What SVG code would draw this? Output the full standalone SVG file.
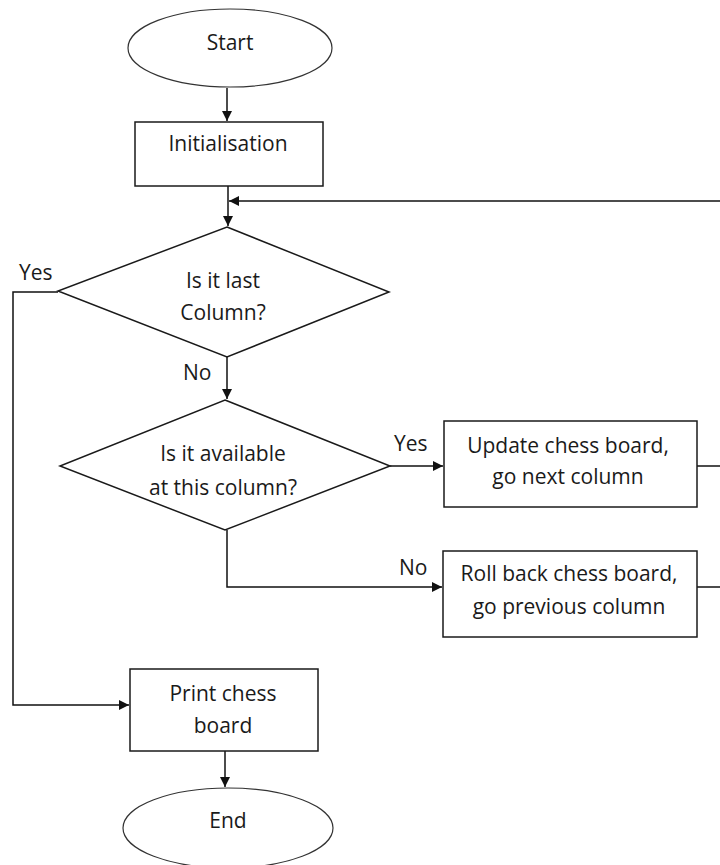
<svg xmlns="http://www.w3.org/2000/svg" width="720" height="865" viewBox="0 0 720 865">
<style>
.s{fill:#fff;stroke:#1a1a1a;stroke-width:1.5}
.e{fill:#fff;stroke:#333;stroke-width:1.2}
.c{fill:none;stroke:#111;stroke-width:1.5}
text{font-family:"Open Sans","Liberation Sans",sans-serif;font-size:21px;fill:#1a1a1a;text-anchor:middle}
.l{text-anchor:start}
</style>
<defs>
<marker id="a" viewBox="0 0 10 10" refX="10" refY="5" markerWidth="10" markerHeight="10" markerUnits="userSpaceOnUse" orient="auto">
<path d="M0,0 L10,5 L0,10 z" fill="#111"/>
</marker>
</defs>
<rect width="720" height="865" fill="#fff"/>
<g id="connectors">
<line class="c" x1="227" y1="88" x2="227" y2="121" marker-end="url(#a)"/>
<line class="c" x1="228" y1="186" x2="228" y2="226" marker-end="url(#a)"/>
<line class="c" x1="720" y1="201" x2="229" y2="201" marker-end="url(#a)"/>
<polyline class="c" points="58,292 13,292 13,705 129,705" marker-end="url(#a)"/>
<line class="c" x1="227" y1="357" x2="227" y2="399" marker-end="url(#a)"/>
<line class="c" x1="390" y1="466" x2="443" y2="466" marker-end="url(#a)"/>
<polyline class="c" points="227,530 227,587 442,587" marker-end="url(#a)"/>
<line class="c" x1="697" y1="466" x2="720" y2="466"/>
<line class="c" x1="697" y1="587" x2="720" y2="587"/>
<line class="c" x1="225" y1="751" x2="225" y2="787" marker-end="url(#a)"/>
<text class="l" x="19" y="280">Yes</text>
<text class="l" x="183" y="380">No</text>
<text class="l" x="394" y="451">Yes</text>
<text class="l" x="399" y="575">No</text>
</g>
<g id="start">
<ellipse class="e" cx="230" cy="48" rx="102" ry="39"/>
<text x="230" y="50">Start</text>
</g>
<g id="init">
<rect class="s" x="135" y="122" width="188" height="64"/>
<text x="228" y="151">Initialisation</text>
</g>
<g id="lastcol">
<polygon class="s" points="227,227 389,292 227,357 58,291"/>
<text x="223" y="288">Is it last</text>
<text x="223" y="320">Column?</text>
</g>
<g id="avail">
<polygon class="s" points="225,400 390,466 225,530 60,466"/>
<text x="223" y="461">Is it available</text>
<text x="223" y="495">at this column?</text>
</g>
<g id="update">
<rect class="s" x="444" y="421" width="253" height="86"/>
<text x="568" y="453">Update chess board,</text>
<text x="568" y="484">go next column</text>
</g>
<g id="rollback">
<rect class="s" x="443" y="551" width="254" height="86"/>
<text x="569" y="581">Roll back chess board,</text>
<text x="569" y="614">go previous column</text>
</g>
<g id="print">
<rect class="s" x="130" y="669" width="188" height="82"/>
<text x="223" y="701">Print chess</text>
<text x="223" y="733">board</text>
</g>
<g id="end">
<ellipse class="e" cx="228" cy="828" rx="105" ry="40"/>
<text x="228" y="828">End</text>
</g>
</svg>
